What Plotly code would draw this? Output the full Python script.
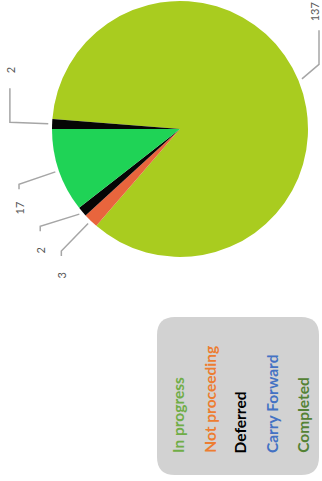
import math
import plotly.graph_objects as go

# ---- data ----
labels = ["In progress", "Not proceeding", "Deferred", "Completed", "Carry Forward"]
values = [137, 3, 2, 17, 2]
slice_colors = ["#A9CC1F", "#E8653D", "#050505", "#1FD356", "#050505"]
legend_items = ["In progress", "Not proceeding", "Deferred", "Carry Forward", "Completed"]
legend_colors = ["#70AD47", "#ED7D31", "#000000", "#4472C4", "#548235"]

# ---- layout constants (pixels) ----
W, H = 322, 481
CX, CY, R = 180, 129, 128
ROT = -85.5  # plotly rotation (deg clockwise from 12 o'clock)
MIN_SEP = 11  # min angular separation of label leaders (deg)


def px(x):
    return x / W


def py(y):
    return 1 - y / H


fig = go.Figure()
fig.add_trace(go.Pie(
    labels=labels, values=values, sort=False, direction="clockwise",
    rotation=ROT, marker=dict(colors=slice_colors, line=dict(width=0)),
    textinfo="none", showlegend=False, hoverinfo="label+value",
    domain=dict(x=[px(CX - R), px(CX + R)], y=[py(CY + R), py(CY - R)]),
))

shapes = []
annotations = []

# data labels with leader lines, positions derived from slice angles
total = sum(values)
a0 = 90 - ROT
cum = 0.0
mids = []
for v in values:
    span = v / total * 360
    mids.append(a0 - cum - span / 2)
    cum += span
# spread label angles (clockwise order = decreasing angle)
lab_angles = []
prev = None
for m in mids:
    a = m if prev is None else min(m, prev - MIN_SEP)
    lab_angles.append(a)
    prev = a

for v, m, la in zip(values, mids, lab_angles):
    mr, lr = math.radians(m), math.radians(la)
    x1, y1 = CX + 1.03 * R * math.cos(mr), CY - 1.03 * R * math.sin(mr)
    x2, y2 = CX + 1.33 * R * math.cos(lr), CY - 1.33 * R * math.sin(lr)
    x2 = min(x2, W - 3)
    if math.sin(lr) > 0:
        y3 = y2 - 34
        ly = y3 - 18
    else:
        y3 = y2 + 5
        ly = y3 + 19
    shapes.append(dict(
        type="path", xref="paper", yref="paper",
        path=f"M {px(x1)} {py(y1)} L {px(x2)} {py(y2)} L {px(x2)} {py(y3)}",
        line=dict(color="#A6A6A6", width=1.5),
    ))
    annotations.append(dict(
        x=px(min(x2, W - 8)), y=py(ly), xref="paper", yref="paper", text=str(v),
        showarrow=False, textangle=-90, xanchor="center", yanchor="middle",
        font=dict(family="Lato, Liberation Sans, sans-serif", size=11, color="#595959"),
    ))

# legend box (rounded rect)
bx0, bx1, by0, by1, rr = 157, 319, 317, 475, 18
path = (
    f"M {px(bx0 + rr)} {py(by0)} L {px(bx1 - rr)} {py(by0)} "
    f"Q {px(bx1)} {py(by0)} {px(bx1)} {py(by0 + rr)} "
    f"L {px(bx1)} {py(by1 - rr)} Q {px(bx1)} {py(by1)} {px(bx1 - rr)} {py(by1)} "
    f"L {px(bx0 + rr)} {py(by1)} Q {px(bx0)} {py(by1)} {px(bx0)} {py(by1 - rr)} "
    f"L {px(bx0)} {py(by0 + rr)} Q {px(bx0)} {py(by0)} {px(bx0 + rr)} {py(by0)} Z"
)
shapes.append(dict(type="path", xref="paper", yref="paper", path=path,
                   fillcolor="#D2D2D2", line=dict(width=0), layer="below"))

for i, (name, col) in enumerate(zip(legend_items, legend_colors)):
    annotations.append(dict(
        x=px(178 + i * 31.2), y=py(455), xref="paper", yref="paper",
        text=f"<b>{name}</b>", showarrow=False, textangle=-90,
        xanchor="center", yanchor="bottom",
        font=dict(family="Lato, Liberation Sans, sans-serif", size=15.5, color=col),
    ))

fig.update_layout(
    width=W, height=H, margin=dict(l=0, r=0, t=0, b=0),
    paper_bgcolor="white", plot_bgcolor="white",
    shapes=shapes, annotations=annotations,
)
fig.write_html(
    "out.html",
    config={"displayModeBar": False},
    post_script="document.body.style.margin='0';document.body.style.overflow='hidden';",
)
